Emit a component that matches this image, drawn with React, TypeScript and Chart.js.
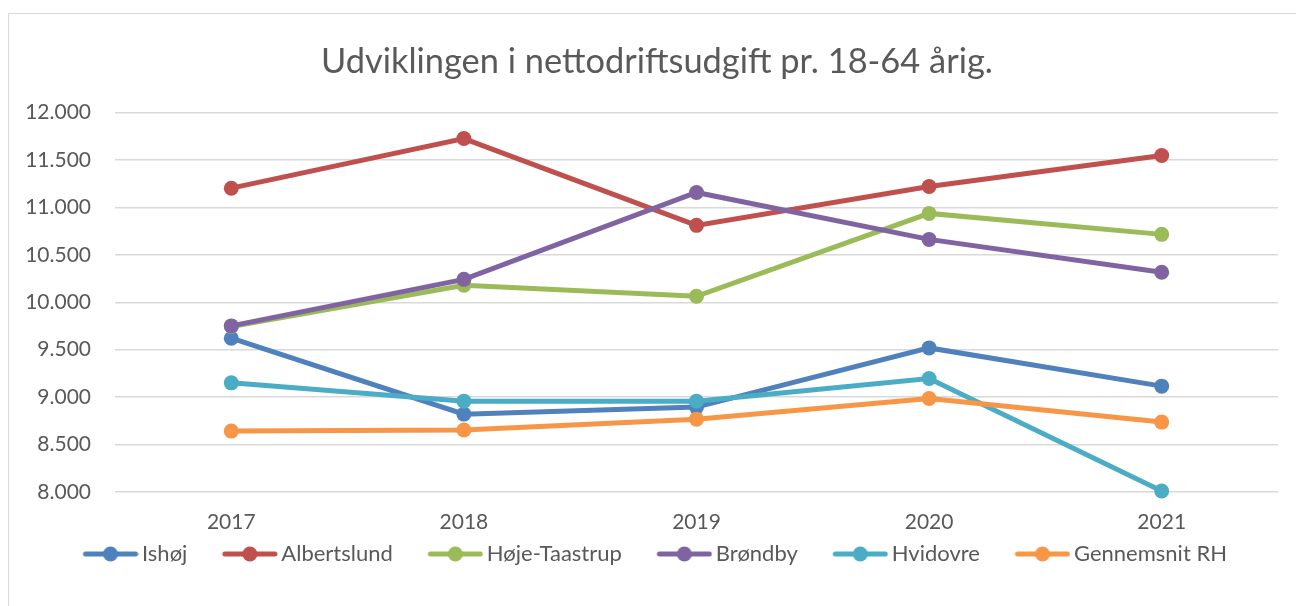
import React, { useEffect, useRef } from 'react';
import { Chart, registerables } from 'chart.js';

Chart.register(...registerables);

const categories = ['2017', '2018', '2019', '2020', '2021'];
const seriesNames = ['Ishøj', 'Albertslund', 'Høje-Taastrup', 'Brøndby', 'Hvidovre', 'Gennemsnit RH'];
const ishoj = [9621, 8821, 8895, 9519, 9116];
const albertslund = [11203, 11726, 10811, 11221, 11547];
const hojeTaastrup = [9745, 10179, 10063, 10937, 10716];
const brondby = [9751, 10242, 11158, 10663, 10316];
const hvidovre = [9151, 8958, 8958, 9197, 8011];
const gennemsnit = [8642, 8653, 8768, 8986, 8737];
const seriesColors = ['#4F81BD', '#C0504D', '#9BBB59', '#8064A2', '#4BACC6', '#F79646'];
const yMin = 8000;
const yMax = 12000;
const yStep = 500;
const titleText = 'Udviklingen i nettodriftsudgift pr. 18-64 årig.';

const FONT = 'Lato';
const TEXT_COLOR = '#595959';
const LEG_FONT = 22;
const LEG_PAD = 10;
const SYM_W = 55;
const GAP_TEXT = 4;
const GAP_NEXT = 35;
const LEG_BOX = GAP_NEXT + SYM_W + GAP_TEXT - LEG_PAD - LEG_FONT / 2;

function fmt(v: number): string {
  return Math.round(v).toString().replace(/\B(?=(\d{3})+(?!\d))/g, '.');
}

function makeLegendImage(color: string): HTMLCanvasElement {
  const textStart = LEG_BOX + LEG_FONT / 2;
  const symEnd = textStart - GAP_TEXT;
  const symStart = symEnd - SYM_W;
  const c = LEG_BOX / 2;
  const half = Math.ceil(Math.max(symEnd - c, c - symStart));
  const cv = document.createElement('canvas');
  cv.width = half * 2;
  cv.height = 16;
  const ctx = cv.getContext('2d')!;
  const off = c - half;
  const s = symStart - off;
  const e = symEnd - off;
  ctx.strokeStyle = color;
  ctx.lineWidth = 5;
  ctx.lineCap = 'round';
  ctx.beginPath();
  ctx.moveTo(s + 2.5, 8);
  ctx.lineTo(e - 2.5, 8);
  ctx.stroke();
  ctx.fillStyle = color;
  ctx.beginPath();
  ctx.arc((s + e) / 2, 8, 7.5, 0, Math.PI * 2);
  ctx.fill();
  return cv;
}

export default function App() {
  const ref = useRef<HTMLCanvasElement | null>(null);

  useEffect(() => {
    document.body.style.margin = '0';
    const canvas = ref.current;
    if (!canvas) return;
    const seriesData = [ishoj, albertslund, hojeTaastrup, brondby, hvidovre, gennemsnit];
    const images = seriesColors.map((c) => makeLegendImage(c));

    const layoutTweaks = {
      id: 'layoutTweaks',
      afterLayout(chart: any) {
        const lg = chart.legend;
        if (lg) {
          lg.left = 83 - GAP_NEXT;
        }
        const tb = chart.titleBlock;
        if (tb) {
          tb.left += 14;
          tb.right += 14;
        }
      },
    };

    const chart = new Chart(canvas, {
      type: 'line',
      data: {
        labels: categories,
        datasets: seriesData.map((d, i) => ({
          label: seriesNames[i],
          data: d,
          borderColor: seriesColors[i],
          backgroundColor: seriesColors[i],
          borderWidth: 5,
          pointRadius: 7.5,
          pointHoverRadius: 7.5,
          pointBorderWidth: 0,
          pointBackgroundColor: seriesColors[i],
          pointBorderColor: seriesColors[i],
          tension: 0,
          clip: false as any,
          order: seriesData.length - i,
        })),
      },
      options: {
        responsive: false,
        animation: false,
        devicePixelRatio: 1,
        layout: { padding: { left: 8, right: 18, top: 0, bottom: 31 } },
        plugins: {
          title: {
            display: true,
            text: titleText,
            color: TEXT_COLOR,
            font: { family: FONT, size: 34.4, weight: 'normal', lineHeight: 1.2 },
            padding: { top: 41, bottom: 30.3 },
          },
          legend: {
            position: 'bottom',
            align: 'start',
            labels: {
              usePointStyle: true,
              pointStyleWidth: LEG_BOX,
              padding: LEG_PAD,
              color: TEXT_COLOR,
              font: { family: FONT, size: LEG_FONT },
              generateLabels: (ch: any) =>
                ch.data.datasets.map((ds: any, i: number) => ({
                  text: ds.label,
                  fillStyle: ds.borderColor,
                  strokeStyle: ds.borderColor,
                  lineWidth: 0,
                  pointStyle: images[i],
                  hidden: false,
                  datasetIndex: i,
                  fontColor: TEXT_COLOR,
                })),
            },
          },
          tooltip: { enabled: false },
        },
        scales: {
          x: {
            offset: true,
            grid: { display: false, drawTicks: false, offset: true },
            border: { display: false },
            ticks: {
              color: TEXT_COLOR,
              font: { family: FONT, size: 21 },
              padding: 18,
            },
            afterFit: (s: any) => {
              s.height = 41;
            },
          },
          y: {
            min: yMin,
            max: yMax,
            grid: { color: '#d9d9d9', lineWidth: 1.5, drawTicks: false },
            border: { display: false },
            ticks: {
              stepSize: yStep,
              color: TEXT_COLOR,
              font: { family: FONT, size: 21 },
              padding: 24,
              callback: (v: any) => fmt(Number(v)),
            },
            afterFit: (s: any) => {
              s.width = 107;
            },
          },
        },
      },
      plugins: [layoutTweaks],
    });
    return () => chart.destroy();
  }, []);

  return (
    <div style={{ position: 'fixed', left: 0, top: 0, width: 1296, height: 606, overflow: 'hidden', background: '#fff' }}>
      <div
        style={{
          position: 'absolute',
          left: 8,
          top: 13,
          width: 1400,
          height: 700,
          border: '1.5px solid #d9d9d9',
          boxSizing: 'border-box',
        }}
      />
      <canvas ref={ref} width={1296} height={606} style={{ position: 'absolute', left: 0, top: 0 }} />
    </div>
  );
}
